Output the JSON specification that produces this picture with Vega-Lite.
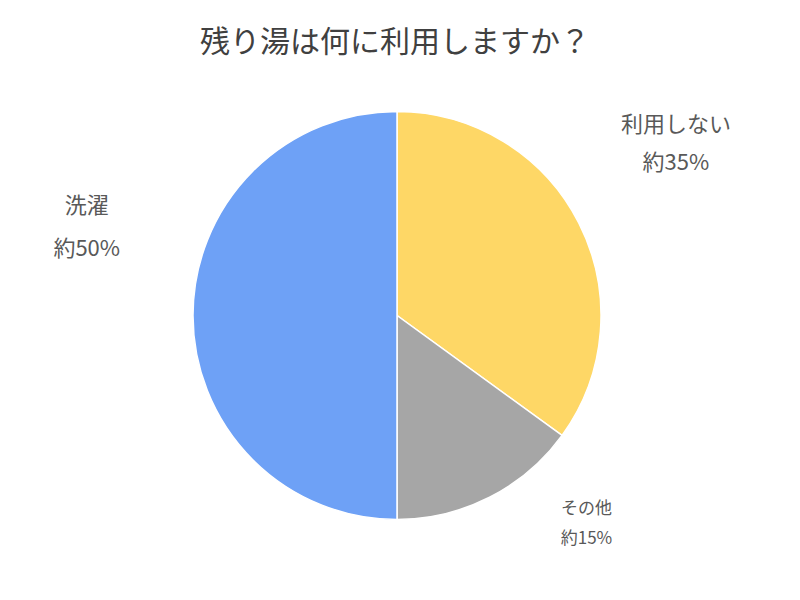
{
  "$schema": "https://vega.github.io/schema/vega-lite/v6.json",
  "description": "残り湯は何に利用しますか？",
  "autosize": {"type": "fit", "contains": "padding"},
  "width": 800,
  "height": 600,
  "padding": {"top": 28, "bottom": 0, "left": 0, "right": 6},
  "background": "white",
  "title": {
    "text": "残り湯は何に利用しますか？",
    "font": "Noto Sans CJK JP",
    "fontSize": 30,
    "fontWeight": "normal",
    "color": "#404040",
    "offset": 6,
    "dx": -2,
    "dy": -5
  },
  "config": {
    "view": {"stroke": null},
    "text": {"font": "Noto Sans CJK JP", "lineBreak": "\n"}
  },
  "data": {
    "values": [
      {"cat": "利用しない", "value": 35, "order": 1, "label": "利用しない\n約35%"},
      {"cat": "その他", "value": 15, "order": 2, "label": "その他\n約15%"},
      {"cat": "洗濯", "value": 50, "order": 3, "label": "洗濯\n約50%"}
    ]
  },
  "encoding": {
    "theta": {"field": "value", "type": "quantitative", "stack": true},
    "order": {"field": "order", "type": "quantitative"}
  },
  "layer": [
    {
      "mark": {"type": "arc", "outerRadius": 204, "stroke": "white", "strokeWidth": 1.5},
      "encoding": {
        "color": {
          "field": "cat",
          "type": "nominal",
          "scale": {
            "domain": ["利用しない", "その他", "洗濯"],
            "range": ["#FED766", "#A6A6A6", "#6EA1F6"]
          },
          "legend": null
        }
      }
    },
    {
      "mark": {"type": "text", "radius": 338, "thetaOffset": -0.129, "fontSize": 22, "lineHeight": 38, "lineBreak": "\n", "color": "#595959", "baseline": "middle"},
      "encoding": {
        "text": {"condition": {"test": "datum.cat === '利用しない'", "field": "label"}, "value": ""}
      }
    },
    {
      "mark": {"type": "text", "radius": 271, "thetaOffset": -0.303, "fontSize": 17, "lineHeight": 30, "lineBreak": "\n", "color": "#595959", "baseline": "middle"},
      "encoding": {
        "text": {"condition": {"test": "datum.cat === 'その他'", "field": "label"}, "value": ""}
      }
    },
    {
      "mark": {"type": "text", "radius": 329, "thetaOffset": 0.339, "fontSize": 22, "lineHeight": 43, "lineBreak": "\n", "color": "#595959", "baseline": "middle"},
      "encoding": {
        "text": {"condition": {"test": "datum.cat === '洗濯'", "field": "label"}, "value": ""}
      }
    }
  ]
}
